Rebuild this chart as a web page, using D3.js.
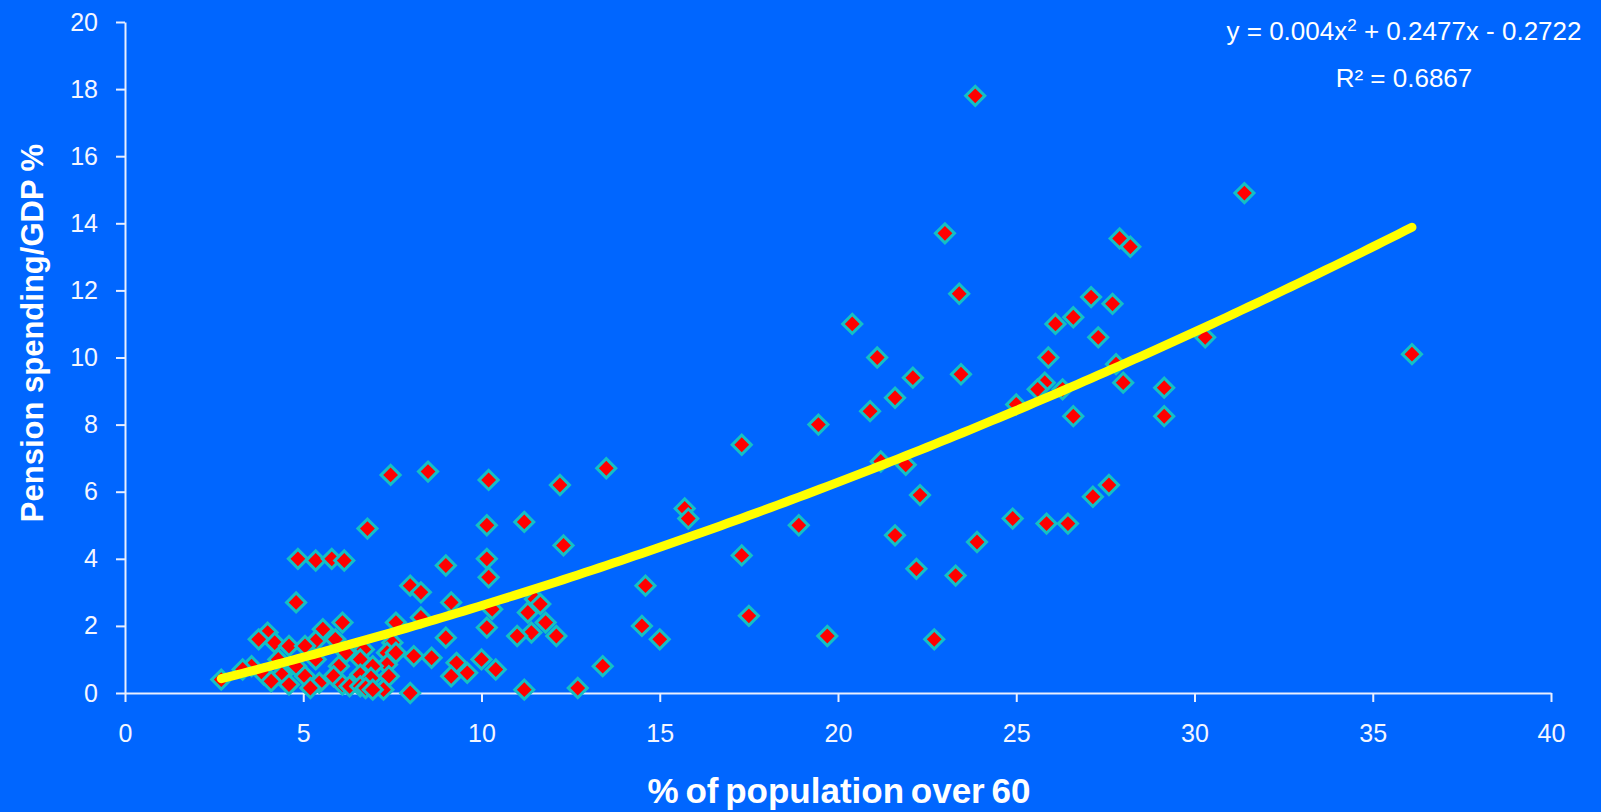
<!DOCTYPE html>
<html>
<head>
<meta charset="utf-8">
<script src="https://cdn.jsdelivr.net/npm/d3@7/dist/d3.min.js"></script>
<style>
  html, body { margin: 0; padding: 0; background: #0066ff; }
  svg { display: block; }
  .axis path, .axis line { stroke: #e8eeff; stroke-width: 2; }
  .axis text { fill: #f4f6ff; font-family: "Liberation Sans", Arial, sans-serif; font-size: 25px; }
  .title { fill: #ffffff; font-family: "Liberation Sans", Arial, sans-serif; font-weight: bold; }
  .equation { fill: #ffffff; font-family: "Liberation Sans", Arial, sans-serif; font-size: 26px; }
</style>
</head>
<body>
<div class="scatter"></div>
<script>
// % of population over 60 (x) and pension spending / GDP % (y), one entry per country
const popOver60 = [
  23.85, 31.4, 23.0, 27.9, 28.2, 23.4, 27.1, 27.7, 26.6, 26.1,
  20.4, 27.3, 30.3, 36.1, 21.1, 25.9, 27.8, 23.45, 22.1, 28.0,
  25.8, 29.15, 25.6, 26.3, 21.6, 25.0, 20.9, 26.6, 29.15, 19.45,
  17.3, 21.2, 21.9, 13.5, 8.5, 7.45, 10.2, 12.2, 27.6, 22.3,
  27.15, 15.7, 15.8, 24.9, 11.2, 25.85, 26.45, 18.9, 10.15, 6.8,
  21.6, 23.9, 12.3, 17.3, 4.85, 5.35, 5.8, 6.15, 10.15, 9.0,
  22.2, 23.3, 10.2, 8.0, 14.6, 8.3, 11.5, 11.65, 9.15, 4.8,
  10.3, 11.3, 17.5, 8.3, 7.6, 6.1, 11.8, 14.5, 10.15, 4.0,
  5.55, 11.4, 11.0, 12.1, 19.7, 9.0, 22.7, 15.0, 3.75, 5.9,
  4.2, 5.35, 7.5, 4.6, 5.05, 6.5, 6.7, 7.35, 6.2, 7.6,
  8.1, 8.6, 10.0, 4.3, 5.35, 6.6, 9.3, 7.35, 3.55, 4.8,
  6.0, 6.95, 13.4, 3.3, 10.4, 9.6, 3.9, 4.4, 6.6, 5.05,
  5.85, 7.4, 9.15, 6.9, 2.7, 4.1, 5.45, 4.6, 6.1, 6.3,
  6.6, 5.2, 6.75, 12.7, 7.25, 6.95, 11.2, 8.0
];
const pensionSpending = [
  17.8, 14.9, 13.7, 13.55, 13.3, 11.9, 11.8, 11.6, 11.2, 11.0,
  11.0, 10.6, 10.6, 10.1, 10.0, 10.0, 9.8, 9.5, 9.4, 9.25,
  9.25, 9.1, 9.05, 9.05, 8.8, 8.6, 8.4, 8.25, 8.25, 8.0,
  7.4, 6.9, 6.8, 6.7, 6.6, 6.5, 6.35, 6.2, 6.2, 5.9,
  5.85, 5.5, 5.2, 5.2, 5.1, 5.05, 5.05, 5.0, 5.0, 4.9,
  4.7, 4.5, 4.4, 4.1, 4.0, 3.95, 4.0, 3.95, 4.0, 3.8,
  3.7, 3.5, 3.45, 3.2, 3.2, 3.0, 2.8, 2.65, 2.7, 2.7,
  2.5, 2.4, 2.3, 2.25, 2.1, 2.1, 2.1, 2.0, 1.95, 1.8,
  1.9, 1.8, 1.7, 1.7, 1.7, 1.65, 1.6, 1.6, 1.6, 1.6,
  1.5, 1.55, 1.5, 1.4, 1.4, 1.3, 1.3, 1.2, 1.2, 1.2,
  1.1, 1.05, 1.0, 1.0, 1.0, 1.0, 0.9, 0.85, 0.8, 0.8,
  0.8, 0.8, 0.8, 0.7, 0.7, 0.6, 0.55, 0.55, 0.55, 0.5,
  0.5, 0.5, 0.5, 0.45, 0.4, 0.35, 0.3, 0.25, 0.25, 0.2,
  0.2, 0.15, 0.15, 0.15, 0.1, 0.1, 0.1, 0.0
];

const xTicks = [0, 5, 10, 15, 20, 25, 30, 35, 40];
const yTicks = [0, 2, 4, 6, 8, 10, 12, 14, 16, 18, 20];

// polynomial trendline as printed on the chart: c2*x^2 + c1*x + c0
const trendCoefficients = [0.004, 0.2477, -0.2722];
const trendRange = [2.7, 36.1];
const equationLabel = ["y = 0.004x", "2", " + 0.2477x - 0.2722"];
const rSquaredLabel = "R² = 0.6867";

const xTitle = "% of population over 60";
const yTitle = "Pension spending/GDP %";

const totalWidth = 1601;
const totalHeight = 812;
const margin = {top: 22, right: 50, bottom: 119, left: 125};
const width = totalWidth - margin.left - margin.right;
const height = totalHeight - margin.top - margin.bottom;

function prepareChartContainer() {
  const root = d3.select(".scatter")
    .append("svg")
      .attr("width", totalWidth)
      .attr("height", totalHeight);

  root.append("rect")
    .attr("width", totalWidth)
    .attr("height", totalHeight)
    .attr("fill", "#0066ff");

  const svg = root.append("g")
    .attr("transform", "translate(" + margin.left + "," + margin.top + ")");

  const x = d3.scaleLinear().domain([0, 40]).range([0, width]);
  const y = d3.scaleLinear().domain([0, 20]).range([height, 0]);

  svg.append("g")
    .attr("class", "axis")
    .attr("transform", "translate(0," + height + ")")
    .call(d3.axisBottom(x).tickValues(xTicks).tickSize(9).tickSizeOuter(0).tickPadding(22));

  svg.append("g")
    .attr("class", "axis")
    .call(d3.axisLeft(y).tickValues(yTicks).tickSize(9).tickSizeOuter(0).tickPadding(18));

  return {root, svg, x, y};
}

function generatePoints({svg, x, y}) {
  // square turned 45deg, red with a teal rim
  const diamond = d3.symbol().type(d3.symbolSquare).size(182);

  svg.append("g")
    .selectAll("path")
    .data(popOver60.map((d, i) => [d, pensionSpending[i]]))
    .enter()
    .append("path")
      .attr("d", diamond)
      .attr("transform", d => "translate(" + x(d[0]) + "," + y(d[1]) + ") rotate(45)")
      .attr("fill", "#ff0000")
      .attr("stroke", "#14c0c4")
      .attr("stroke-width", 3);
}

function generateTrendline({svg, x, y}) {
  const [c2, c1, c0] = trendCoefficients;
  const steps = d3.range(trendRange[0], trendRange[1], 0.2).concat([trendRange[1]]);

  const line = d3.line()
    .x(d => x(d))
    .y(d => y(c2 * d * d + c1 * d + c0));

  svg.append("path")
    .datum(steps)
    .attr("d", line)
    .attr("fill", "none")
    .attr("stroke", "#ffff00")
    .attr("stroke-width", 9)
    .attr("stroke-linecap", "round")
    .attr("stroke-linejoin", "round");
}

function generateLabels({root}) {
  const eq = root.append("text")
    .attr("class", "equation")
    .attr("x", 1404)
    .attr("y", 40)
    .attr("text-anchor", "middle");
  eq.append("tspan").text(equationLabel[0]);
  eq.append("tspan").attr("dy", -9).attr("font-size", "17px").text(equationLabel[1]);
  eq.append("tspan").attr("dy", 9).text(equationLabel[2]);

  root.append("text")
    .attr("class", "equation")
    .attr("x", 1404)
    .attr("y", 87)
    .attr("text-anchor", "middle")
    .text(rSquaredLabel);

  root.append("text")
    .attr("class", "title")
    .attr("x", 839)
    .attr("y", 803)
    .attr("text-anchor", "middle")
    .attr("font-size", "35px")
    .attr("word-spacing", "-3px")
    .text(xTitle);

  root.append("text")
    .attr("class", "title")
    .attr("transform", "translate(43,333) rotate(-90)")
    .attr("text-anchor", "middle")
    .attr("font-size", "31px")
    .text(yTitle);
}

function renderChart() {
  const chart = prepareChartContainer();
  generatePoints(chart);
  generateTrendline(chart);
  generateLabels(chart);
}

renderChart();
</script>
</body>
</html>
